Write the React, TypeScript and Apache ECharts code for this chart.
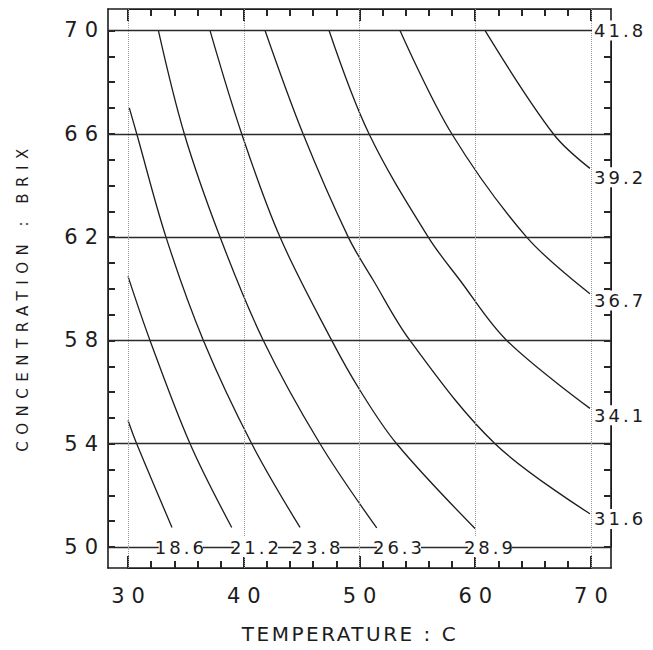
import React, { useEffect, useRef } from 'react';
import * as echarts from 'echarts';

// ---- axis ticks ----
const temperatureTicks = [30, 40, 50, 60, 70];
const brixTicks = [50, 54, 58, 62, 66, 70];

// ---- contour levels ----
const contourLevels = [18.6, 21.2, 23.8, 26.3, 28.9, 31.6, 34.1, 36.7, 39.2, 41.8];

// ---- contour curves: [temperature C, concentration Brix] ----
const curve186 = [[30.0, 54.9], [30.75, 54.0], [33.8, 50.76]];
const curve212 = [[30.0, 60.48], [31.9, 58.0], [35.36, 54.0], [38.96, 50.76]];
const curve238 = [[30.11, 67.0], [30.75, 66.0], [33.28, 62.0], [36.51, 58.0], [40.69, 54.0], [44.86, 50.76]];
const curve263 = [[32.62, 70.0], [34.86, 66.0], [37.95, 62.0], [41.69, 58.0], [46.59, 54.0], [51.49, 50.74]];
const curve289 = [[37.08, 70.0], [39.82, 66.0], [43.13, 62.0], [47.6, 58.0], [50.04, 56.07], [53.21, 54.0], [59.98, 50.72]];
const curve316 = [[41.84, 70.0], [45.12, 66.0], [49.03, 62.0], [51.19, 60.33], [54.36, 58.0], [61.71, 54.0], [69.91, 51.29]];
const curve341 = [[47.37, 70.0], [50.82, 66.0], [55.94, 62.0], [58.68, 60.33], [62.72, 58.0], [69.91, 55.37]];
const curve367 = [[53.5, 70.0], [57.97, 66.0], [64.44, 62.0], [69.91, 59.81]];
const curve392 = [[60.84, 70.0], [66.74, 66.0], [69.91, 64.66]];
const contourCurves = [curve186, curve212, curve238, curve263, curve289, curve316, curve341, curve367, curve392];

// ---- where each contour label sits: [temperature, brix] ----
const labelTemperature = [34.56, 41.05, 46.37, 53.41, 61.27, 70.09, 70.09, 70.09, 70.09, 70.09];
const labelBrix = [50, 50, 50, 50, 50, 51.09, 55.1, 59.55, 64.32, 70];

const X_MIN = 28.27;
const X_MAX = 71.73;
const Y_MIN = 49.19;
const Y_MAX = 70.83;

const W = 653;
const H = 650;
const GRID = { left: 108, right: 42, top: 9, bottom: 82 };

const FONT = 'DejaVu Sans';
const INK = '#1c1c1c';

const css = `
.plotchart svg text[style*="21px"] { letter-spacing: 7px; }
.plotchart svg text[style*="18px"] { letter-spacing: 3px; }
.plotchart svg text[style*="20px"] { letter-spacing: 2.5px; }
.plotchart svg text[style*="15px"] { letter-spacing: 6.5px; }
`;

export default function App() {
  const ref = useRef<HTMLDivElement>(null);

  useEffect(() => {
    if (!ref.current) return;
    const chart = echarts.init(ref.current, undefined, { renderer: 'svg' });

    // a second grid spanning exactly 30..70 C and 50..70 Brix, used for the frame's tick marks
    const pxPerX = (W - GRID.left - GRID.right) / (X_MAX - X_MIN);
    const pxPerY = (H - GRID.top - GRID.bottom) / (Y_MAX - Y_MIN);
    const padL = (30 - X_MIN) * pxPerX;
    const padR = (X_MAX - 70) * pxPerX;
    const padT = (Y_MAX - 70) * pxPerY;
    const padB = (50 - Y_MIN) * pxPerY;
    const tickGrid = {
      left: GRID.left + padL,
      right: GRID.right + padR,
      top: GRID.top + padT,
      bottom: GRID.bottom + padB,
    };

    const frameLine = { show: true, onZero: false, lineStyle: { color: INK, width: 1.6 } };
    const tickAxisLine = { show: true, onZero: false, lineStyle: { color: INK, width: 1 } };
    const tickStyle = { color: '#262626', width: 2 };

    const mainX = { type: 'value', gridIndex: 0, min: X_MIN, max: X_MAX, splitLine: { show: false }, axisTick: { show: false } };
    const mainY = { type: 'value', gridIndex: 0, min: Y_MIN, max: Y_MAX, splitLine: { show: false }, axisTick: { show: false } };

    const tickX = (position: string, interval: number, length: number, offset: number) => ({
      type: 'value',
      gridIndex: 1,
      min: 30,
      max: 70,
      interval,
      position,
      offset,
      axisLine: tickAxisLine,
      axisLabel: { show: false },
      splitLine: { show: false },
      axisTick: { show: true, inside: true, length, lineStyle: tickStyle },
    });
    const tickY = (position: string, offset: number) => ({
      type: 'value',
      gridIndex: 1,
      min: 50,
      max: 70,
      interval: 1,
      position,
      offset,
      axisLine: tickAxisLine,
      axisLabel: { show: false },
      splitLine: { show: false },
      axisTick: { show: true, inside: true, length: 7, lineStyle: tickStyle },
    });

    const contourSeries = contourCurves.map((curve, i) => ({
      type: 'line',
      xAxisIndex: 0,
      yAxisIndex: 0,
      name: String(contourLevels[i]),
      data: curve,
      smooth: 0.35,
      showSymbol: false,
      symbol: 'none',
      silent: true,
      z: 3,
      lineStyle: { color: INK, width: 1.3 },
    }));

    const labelData = contourLevels.map((lvl, i) => {
      const onRight = labelTemperature[i] > 70;
      return {
        value: [labelTemperature[i], labelBrix[i], lvl],
        label: onRight ? { position: 'right', distance: 0 } : { position: 'inside' },
      };
    });

    // invisible carriers binding the tick-mark axes to a series
    const tickCarrier = (xi: number, yi: number) => ({
      type: 'line',
      xAxisIndex: xi,
      yAxisIndex: yi,
      data: [[50, 60]],
      showSymbol: false,
      symbol: 'none',
      silent: true,
      lineStyle: { opacity: 0 },
      itemStyle: { opacity: 0 },
    });

    chart.setOption({
      animation: false,
      backgroundColor: '#ffffff',
      grid: [
        { ...GRID, containLabel: false },
        { ...tickGrid, containLabel: false },
      ],
      xAxis: [
        {
          ...mainX,
          position: 'bottom',
          axisLine: frameLine,
          axisLabel: {
            show: true,
            customValues: temperatureTicks,
            margin: 17,
            fontSize: 21,
            fontFamily: FONT,
            color: INK,
            padding: [0, 0, 0, 7],
          },
          name: 'TEMPERATURE : C',
          nameLocation: 'middle',
          nameGap: 56,
          nameTextStyle: { fontSize: 20, fontFamily: FONT, color: INK, padding: [0, 19, 0, 0] },
        },
        { ...mainX, position: 'top', axisLine: frameLine, axisLabel: { show: false } },
        tickX('bottom', 2, 7, padB),
        tickX('top', 2, 7, padT),
        tickX('bottom', 10, 12, padB),
        tickX('top', 10, 12, padT),
      ],
      yAxis: [
        {
          ...mainY,
          position: 'left',
          axisLine: frameLine,
          axisLabel: {
            show: true,
            customValues: brixTicks,
            margin: 3,
            fontSize: 21,
            fontFamily: FONT,
            color: INK,
            verticalAlign: 'middle',
            padding: [0, 0, 15, 0],
          },
          name: 'CONCENTRATION : BRIX',
          nameLocation: 'middle',
          nameRotate: 90,
          nameGap: 78,
          nameTextStyle: { fontSize: 15, fontFamily: FONT, color: INK, padding: [0, 17, 0, 0] },
        },
        { ...mainY, position: 'right', axisLine: frameLine, axisLabel: { show: false } },
        tickY('left', padL),
        tickY('right', padR),
      ],
      series: [
        tickCarrier(2, 2),
        tickCarrier(3, 3),
        tickCarrier(4, 2),
        tickCarrier(5, 3),
        {
          type: 'line',
          data: [],
          silent: true,
          z: 2,
          markLine: {
            silent: true,
            symbol: 'none',
            label: { show: false },
            animation: false,
            data: [
              ...brixTicks.map((v) => ({ yAxis: v, lineStyle: { type: 'solid', color: '#2a2a2a', width: 1.4 } })),
              ...temperatureTicks.map((v) => ({ xAxis: v, lineStyle: { type: 'dotted', color: '#9a9a9a', width: 1 } })),
            ],
          },
        },
        ...contourSeries,
        {
          type: 'scatter',
          data: labelData,
          symbolSize: 0,
          itemStyle: { color: INK, opacity: 1 },
          silent: true,
          clip: false,
          z: 5,
          label: {
            show: true,
            formatter: (p: any) => Number(p.value[2]).toFixed(1),
            fontSize: 18,
            fontFamily: FONT,
            color: INK,
            opacity: 1,
            backgroundColor: '#ffffff',
            padding: [1, 2, 1, 2],
          },
        },
      ],
    });

    return () => chart.dispose();
  }, []);

  return (
    <>
      <style>{css}</style>
      <div
        ref={ref}
        className="plotchart"
        style={{ position: 'absolute', left: 0, top: 0, width: W, height: H }}
      />
    </>
  );
}
